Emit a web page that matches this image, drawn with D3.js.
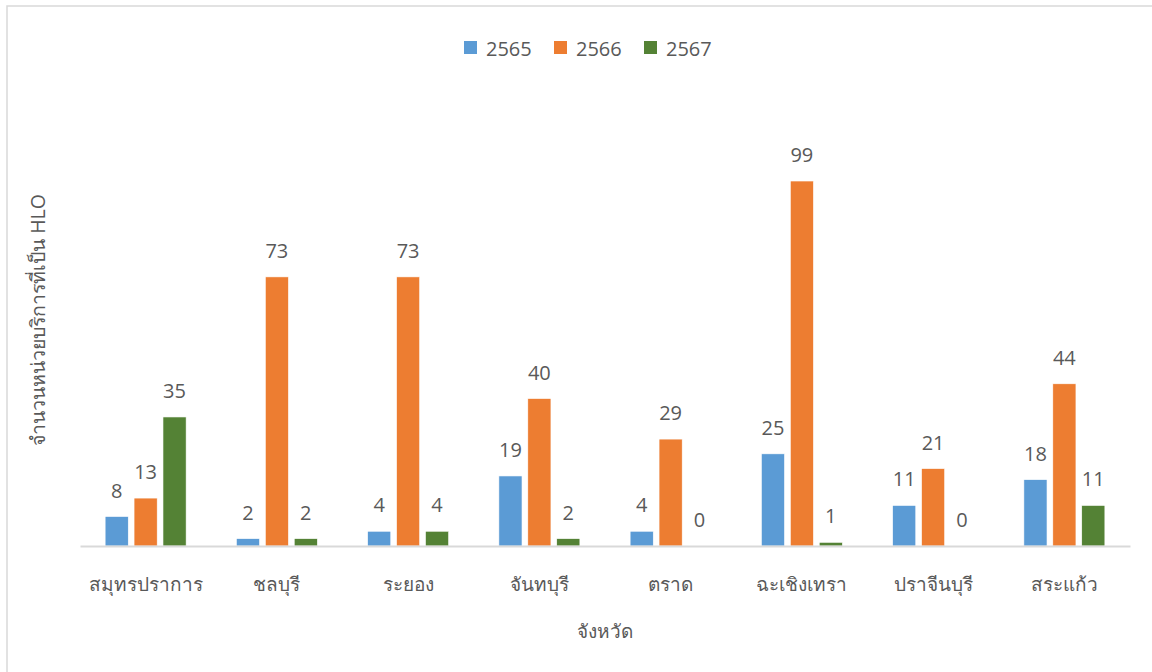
<!DOCTYPE html>
<html>
<head>
<meta charset="utf-8">
<script src="https://cdn.jsdelivr.net/npm/d3@7"></script>
<style>
  body { margin: 0; background: #fff; }
  text { font-family: "Open Sans", "Noto Sans", sans-serif; fill: #595959; }
</style>
</head>
<body>
<script>
const provinces = ['สมุทรปราการ', 'ชลบุรี', 'ระยอง', 'จันทบุรี', 'ตราด', 'ฉะเชิงเทรา', 'ปราจีนบุรี', 'สระแก้ว']
const years = ['2565', '2566', '2567']
const v2565 = [8, 2, 4, 19, 4, 25, 11, 18]
const v2566 = [13, 73, 73, 40, 29, 99, 21, 44]
const v2567 = [35, 2, 4, 2, 0, 1, 0, 11]
const colors = ['#5B9BD5', '#ED7D31', '#548235']

const width = 1152
const height = 672
const svg = d3.select('body').append('svg').attr('width', width).attr('height', height)

// outer chart border (runs off right/bottom)
svg.append('rect')
  .attr('x', 7).attr('y', 6).attr('width', 1160).attr('height', 700)
  .attr('fill', 'none').attr('stroke', '#d9d9d9').attr('stroke-width', 1.5)

const series = [v2565, v2566, v2567]

var scaleX = d3.scaleBand().domain(provinces).range([80, 1130])
var scaleSub = d3.scaleBand().domain(years).range([0, 81]).paddingInner(0.2)
var scaleY = d3.scaleLinear().domain([0, 120]).range([546, 103.6])

const groups = svg.append('g')
  .selectAll('g')
  .data(provinces)
  .enter()
  .append('g')
  .attr('transform', d => `translate(${scaleX(d) + scaleX.bandwidth() / 2 - 40.5}, 0)`)

groups.selectAll('rect')
  .data((p, i) => years.map((y, j) => ({year: y, value: series[j][i], color: colors[j]})))
  .enter()
  .append('rect')
  .attr('x', d => scaleSub(d.year))
  .attr('y', d => scaleY(d.value))
  .attr('width', scaleSub.bandwidth())
  .attr('height', d => scaleY(0) - scaleY(d.value))
  .attr('fill', d => d.color)
  .attr('stroke', '#fff')
  .attr('stroke-width', 0.6)

groups.selectAll('text')
  .data((p, i) => years.map((y, j) => ({year: y, value: series[j][i]})))
  .enter()
  .append('text')
  .attr('x', d => scaleSub(d.year) + scaleSub.bandwidth() / 2)
  .attr('y', d => scaleY(d.value) - 19)
  .attr('text-anchor', 'middle')
  .attr('font-size', 20)
  .text(d => d.value)

// x axis
var axisX = d3.axisBottom(scaleX).tickSize(0).tickPadding(32)
var ax = svg.append('g').attr('transform', `translate(0, ${scaleY(0)})`).call(axisX)
ax.select('.domain').attr('stroke', '#d9d9d9').attr('stroke-width', 2)
ax.selectAll('.tick text').attr('font-size', 19).attr('fill', '#595959')
  .attr('font-family', '"Open Sans", "Noto Sans", sans-serif')

// axis titles
svg.append('text')
  .attr('x', 605).attr('y', 638)
  .attr('text-anchor', 'middle')
  .attr('font-size', 19)
  .text('จังหวัด')

svg.append('text')
  .attr('transform', 'translate(45, 320) rotate(-90)')
  .attr('text-anchor', 'middle')
  .attr('font-size', 19.5)
  .text('จำนวนหน่วยบริการที่เป็น HLO')

// legend
const legend = svg.append('g').attr('transform', 'translate(464, 41)')
const li = legend.selectAll('g')
  .data(years)
  .enter()
  .append('g')
  .attr('transform', (d, i) => `translate(${i * 90}, 0)`)
li.append('rect').attr('width', 13).attr('height', 13).attr('fill', (d, i) => colors[i])
li.append('text').attr('x', 22).attr('y', 15).attr('font-size', 20).text(d => d)
</script>
</body>
</html>
